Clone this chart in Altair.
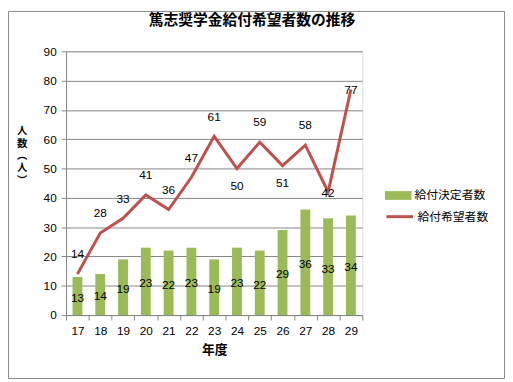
import altair as alt
import pandas as pd

years = ["17", "18", "19", "20", "21", "22", "23", "24", "25", "26", "27", "28", "29"]
decided = [13, 14, 19, 23, 22, 23, 19, 23, 22, 29, 36, 33, 34]
applied = [14, 28, 33, 41, 36, 47, 61, 50, 59, 51, 58, 42, 77]
applied_label_pos = ["above", "above", "above", "above", "above", "above", "above",
                     "below", "above", "below", "above", "center", "center"]
y_ticks = [0, 10, 20, 30, 40, 50, 60, 70, 80, 90]

TITLE = "篤志奨学金給付希望者数の推移"
S1 = "給付決定者数"
S2 = "給付希望者数"

df = pd.DataFrame({
    "year": years,
    "decided": decided,
    "applied": applied,
    "pos": applied_label_pos,
    "s1": [S1] * len(years),
    "s2": [S2] * len(years),
})

JP = "Noto Sans CJK JP"
NUM = "Liberation Sans"
GRID = "#868686"
GREEN = "#9BBB59"
RED = "#C0504D"

xenc = alt.X("year:O", sort=years,
             scale=alt.Scale(paddingInner=0, paddingOuter=0),
             axis=alt.Axis(title="年度", labelAngle=0, tickBand="extent",
                           labelFont=NUM, labelFontSize=12, labelColor="#000",
                           labelPadding=6, tickSize=5, tickColor=GRID,
                           domainColor=GRID, titleFont=JP, titleFontSize=13,
                           titleFontWeight="bold", titlePadding=7, titleColor="#000"))
yscale = alt.Scale(domain=[0, 90], nice=False)
yaxis = alt.Axis(values=y_ticks, grid=True, gridColor=GRID, labelOverlap=False,
                 gridWidth=1, domainColor=GRID, tickColor=GRID, tickSize=5,
                 labelFont=NUM, labelFontSize=12, labelColor="#000",
                 labelPadding=5,
                 title=["人", "数", "︵", "人", "︶"], titleAngle=0,
                 titleFont=JP, titleFontSize=10.5, titleFontWeight="bold",
                 titleColor="#000", titleX=-45, titleY=76,
                 titleAlign="center", titleBaseline="top", titleLineHeight=12.5)


def yenc(field):
    return alt.Y(field, scale=yscale, axis=yaxis)


base = alt.Chart(df)

bars = base.mark_bar(size=10).encode(
    x=xenc,
    y=yenc("decided:Q"),
    color=alt.Color("s1:N", scale=alt.Scale(domain=[S1], range=[GREEN]),
                    legend=alt.Legend(title=None, orient="none", legendX=324, legendY=133,
                                      symbolType="M-1,-0.33H1V0.33H-1Z", symbolSize=729,
                                      symbolStrokeWidth=0,
                                      labelFont=JP, labelFontSize=12, labelColor="#000",
                                      labelOffset=3)),
)

bar_labels = base.transform_calculate(half="datum.decided / 2").mark_text(
    font=NUM, fontSize=12, color="#000", baseline="middle", dy=2
).encode(x=xenc, y=yenc("half:Q"), text="decided:Q")

line = base.mark_line(strokeWidth=3).encode(
    x=xenc,
    y=yenc("applied:Q"),
    stroke=alt.Stroke("s2:N", scale=alt.Scale(domain=[S2], range=[RED]),
                      legend=alt.Legend(title=None, orient="none", legendX=324, legendY=153,
                                        symbolType="stroke", symbolSize=729,
                                        symbolStrokeWidth=3,
                                        labelFont=JP, labelFontSize=12, labelColor="#000",
                                        labelOffset=3)),
)


def line_text(pos, dy):
    return base.transform_filter(alt.datum.pos == pos).mark_text(
        font=NUM, fontSize=12, color="#000", baseline="middle", dy=dy
    ).encode(x=xenc, y=yenc("applied:Q"), text="applied:Q")


frame = alt.Chart(pd.DataFrame({"a": [0]})).mark_rect(
    fill=None, stroke="#888888", strokeWidth=1
).encode(x=alt.value(-58.5), x2=alt.value(445.5), y=alt.value(-40.5), y2=alt.value(332.5))

title = alt.Chart(pd.DataFrame({"t": [TITLE]})).mark_text(
    font=JP, fontSize=15, fontWeight="bold", color="#000", baseline="middle", align="center"
).encode(x=alt.value(189), y=alt.value(-32), text="t:N")

chart = alt.layer(
    bars, bar_labels, line,
    line_text("above", -20), line_text("below", 18), line_text("center", 1), frame, title
).resolve_scale(color="independent").properties(
    width=301, height=268,
    autosize=alt.AutoSizeParams(type="none"),
    padding={"left": 59, "top": 41, "right": 145, "bottom": 65},
).configure_view(stroke=None).configure(background="white")

chart.save("out.html", embed_options={"renderer": "svg", "actions": False})
